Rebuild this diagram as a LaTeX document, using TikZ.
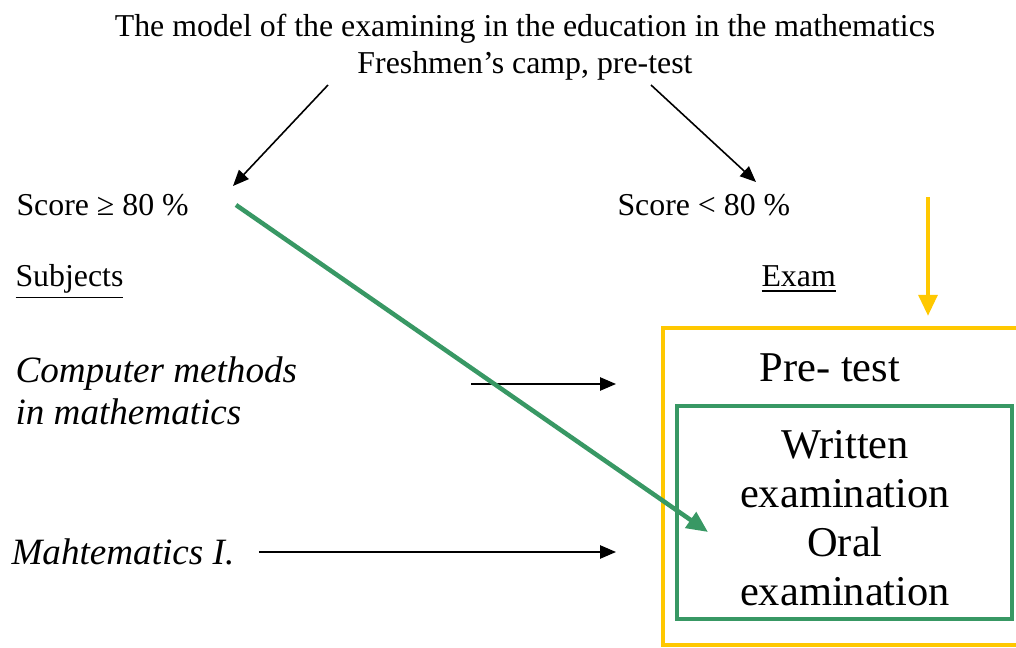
\documentclass[tikz,border=0pt]{standalone}
\usepackage{fontspec}
\setmainfont{Liberation Serif}
\usepackage{tikz}
\usepackage{xcolor}
\usetikzlibrary{
    arrows.meta,
    calc,
    positioning
}
\definecolor{examyellow}{RGB}{255,200,0}
\definecolor{examgreen}{RGB}{56,152,100}

\begin{document}
\begin{tikzpicture}[x=0.377pt, y=-0.377pt,
        txt/.style={inner sep=0pt, font=\fontsize{12}{14}\selectfont},
        big/.style={inner sep=0pt, align=center, font=\fontsize{16}{18.5}\selectfont},
        subj/.style={inner sep=0pt, align=left, font=\fontsize{14}{15.8}\selectfont\itshape},
        blk/.style={-{Triangle[length=6pt, width=5pt]}, line width=0.6pt},
        thk/.style={line width=1.7pt}]
                        \useasboundingbox (0, 0) rectangle (1016, 648);
                        \clip (0, 0) rectangle (1016, 648);
                        \node[txt, align=center] (title) at (525, 47) {The model of the examining in the education in the mathematics\\Freshmen's camp, pre-test};
                        \node[txt, anchor=west] (hi) at (16, 205) {Score ≥ 80 \%};
                        \node[txt, anchor=west] (lo) at (617, 205) {Score < 80 \%};
                        \node[txt, anchor=base west] (subj) at (15, 287) {\underline{Subjects}};
                        \node[txt, anchor=base west] (exam) at (761, 287) {\underline{Exam}};
                        \node[subj, anchor=west] (cm) at (15, 391) {Computer methods\\in mathematics};
                        \node[subj, anchor=west] (m1) at (11, 552) {Mahtematics I.};
                        \node[big] (pre) at (830, 368) {Pre- test};
                        \node[big] (wo) at (845, 518) {Written\\examination\\Oral\\examination};

                        \coordinate (t1) at (328, 85);
                        \coordinate (t2) at (651, 85);
                        \coordinate (h1) at (233, 186);
                        \coordinate (h2) at (756, 182);
                        \coordinate (c1) at (471, 384);
                        \coordinate (c2) at (616, 384);
                        \coordinate (m2) at (616, 552);
                        \coordinate (y1) at (928, 197);
                        \coordinate (y2) at (928, 316);
                        \coordinate (g1) at (236, 205);
                        \coordinate (g2) at (708, 532);

                        \draw[examyellow, line width=1.6pt] (1030, 328) rectangle (663, 645);
                        \draw[examgreen, line width=1.6pt] (677, 406) rectangle (1012, 619);

                        \draw
                        (t1) edge[blk] (h1)
                        (t2) edge[blk] (h2)
                        (c1) edge[blk] (c2)
                        ($(m1.east) + (24, 0)$) edge[blk] (m2)
                        (y1) edge[examyellow, thk, -{Triangle[length=8pt, width=7pt]}] (y2)
                        (g1) edge[examgreen, thk, -{Triangle[length=8pt, width=7pt]}] (g2);
                    \end{tikzpicture}
\end{document}
